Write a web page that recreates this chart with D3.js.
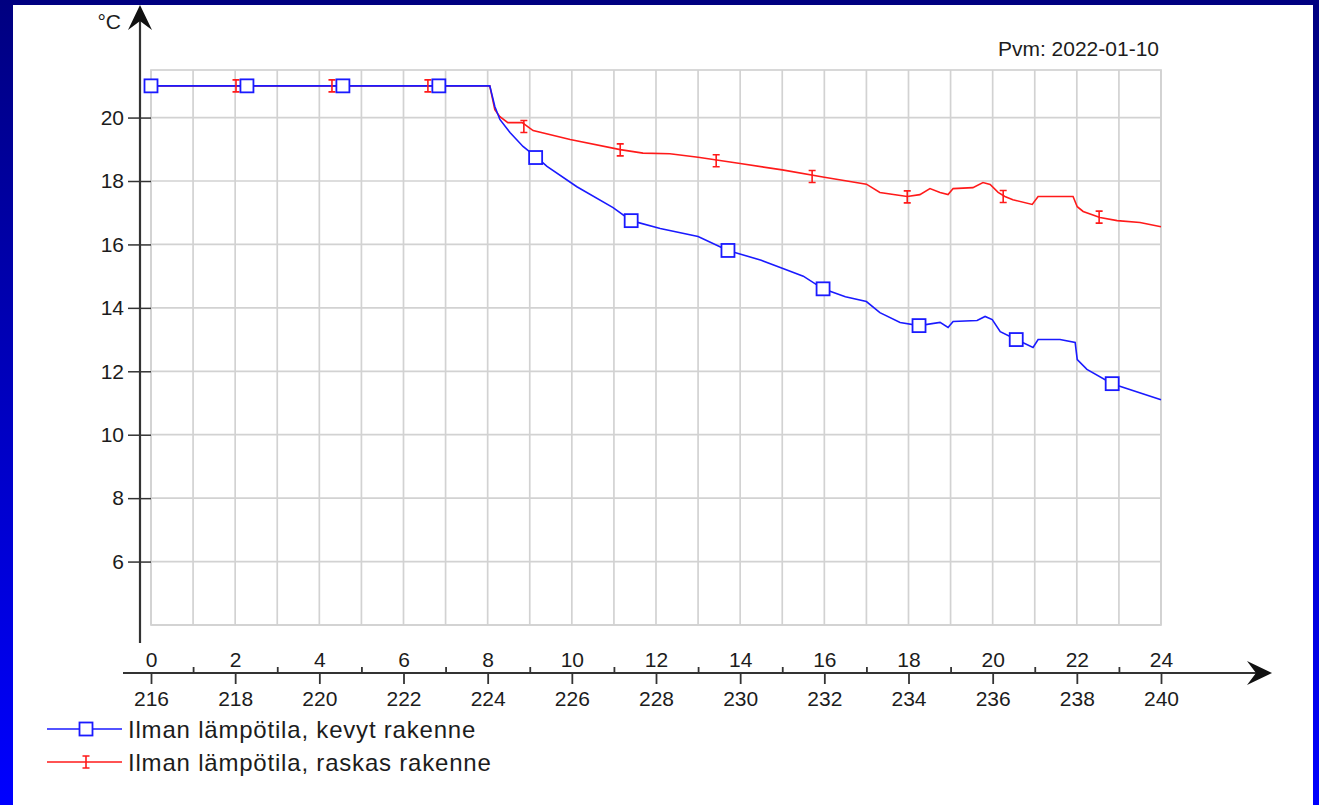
<!DOCTYPE html>
<html>
<head>
<meta charset="utf-8">
<script src="https://cdn.jsdelivr.net/npm/d3@7"></script>
<style>
  html, body { margin: 0; padding: 0; }
  body { width: 1319px; height: 805px; overflow: hidden; }
  svg text { font-family: "Liberation Sans", Arial, sans-serif; fill: #1c1c1c; }
</style>
</head>
<body>
<svg id="chart" width="1319" height="805"></svg>
<script>
// Simulation hours (0–24) and the matching hour-of-year labels (216–240)
const hourTicks = [0, 2, 4, 6, 8, 10, 12, 14, 16, 18, 20, 22, 24];
const hourOfYearTicks = [216, 218, 220, 222, 224, 226, 228, 230, 232, 234, 236, 238, 240];
const minorHourTicks = [1, 3, 5, 7, 9, 11, 13, 15, 17, 19, 21, 23];
const tempTicks = [6, 8, 10, 12, 14, 16, 18, 20];

// Light structure: air temperature [°C]
const lightHours = [0, 8.05, 8.17, 8.29, 8.53, 8.84, 9.17, 9.41, 10.12, 10.98, 11.41, 12.1, 13.0, 13.71,
  14.5, 15.0, 15.5, 15.97, 16.5, 17.0, 17.32, 17.8, 18.25, 18.75, 18.94, 19.06, 19.63, 19.82, 19.99,
  20.18, 20.56, 20.96, 21.08, 21.6, 21.96, 22.01, 22.24, 22.84, 24.0];
const lightTemp = [21.0, 21.0, 20.35, 19.94, 19.53, 19.09, 18.74, 18.46, 17.82, 17.16, 16.75, 16.5, 16.25, 15.81,
  15.5, 15.25, 15.0, 14.6, 14.35, 14.2, 13.85, 13.54, 13.44, 13.54, 13.38, 13.57, 13.6, 13.73, 13.63,
  13.25, 13.0, 12.75, 13.0, 13.0, 12.91, 12.37, 12.06, 11.61, 11.1];

// Heavy structure: air temperature [°C]
const heavyHours = [0, 8.05, 8.17, 8.29, 8.48, 8.82, 9.08, 9.96, 11.15, 11.69, 12.33, 13.0, 14.0, 15.0,
  16.0, 17.0, 17.32, 17.97, 18.27, 18.51, 18.75, 18.94, 19.06, 19.53, 19.77, 19.94, 20.13, 20.29,
  20.48, 20.94, 21.08, 21.91, 22.01, 22.15, 22.55, 22.96, 23.5, 24.0];
const heavyTemp = [21.0, 21.0, 20.25, 20.03, 19.84, 19.84, 19.59, 19.31, 18.99, 18.88, 18.86, 18.75, 18.55, 18.35,
  18.12, 17.9, 17.64, 17.51, 17.57, 17.76, 17.64, 17.57, 17.76, 17.79, 17.95, 17.89, 17.64, 17.51,
  17.41, 17.26, 17.51, 17.51, 17.19, 17.04, 16.85, 16.75, 16.69, 16.56];

// Marker positions along each series
const lightMarkHours = [0, 2.28, 4.56, 6.84, 9.14, 11.41, 13.71, 15.97, 18.25, 20.56, 22.84];
const lightMarkTemp = [21.0, 21.0, 21.0, 21.0, 18.74, 16.75, 15.81, 14.6, 13.44, 13.0, 11.61];
const heavyMarkHours = [0, 2.02, 4.30, 6.58, 8.86, 11.15, 13.43, 15.71, 17.97, 20.25, 22.53];
const heavyMarkTemp = [21.0, 21.0, 21.0, 21.0, 19.72, 18.98, 18.64, 18.14, 17.5, 17.51, 16.86];

const seriesNames = ["Ilman lämpötila, kevyt rakenne", "Ilman lämpötila, raskas rakenne"];
const unitLabel = "°C";
const dateLabel = "Pvm: 2022-01-10";

const svg = d3.select("#chart");

// Backdrop: navy-to-blue frame around a white sheet
const defs = svg.append("defs");
const grad = defs.append("linearGradient").attr("id", "frame").attr("x1", 0).attr("y1", 0).attr("x2", 0).attr("y2", 1);
grad.append("stop").attr("offset", "0%").attr("stop-color", "#000080");
grad.append("stop").attr("offset", "100%").attr("stop-color", "#0000ff");
svg.append("rect").attr("width", 1319).attr("height", 805).attr("fill", "url(#frame)");
svg.append("rect").attr("x", 13).attr("y", 5).attr("width", 1300).attr("height", 800).attr("fill", "#ffffff");

const plot = { left: 151, right: 1161, top: 70, bottom: 625 };
const x = d3.scaleLinear().domain([0, 24]).range([plot.left, plot.right]);
const y = d3.scaleLinear().domain([4, 21.5]).range([plot.bottom, plot.top]);

// Grid
const grid = svg.append("g").attr("stroke", "#d2d2d2").attr("stroke-width", 1.7).attr("fill", "none");
grid.selectAll("line.v").data(d3.range(0, 25)).join("line")
  .attr("x1", d => x(d)).attr("x2", d => x(d)).attr("y1", plot.top).attr("y2", plot.bottom);
grid.selectAll("line.h").data([4].concat(tempTicks)).join("line")
  .attr("x1", plot.left).attr("x2", plot.right).attr("y1", d => y(d)).attr("y2", d => y(d));
grid.append("rect").attr("x", plot.left).attr("y", plot.top)
  .attr("width", plot.right - plot.left).attr("height", plot.bottom - plot.top);

const axisColor = "#333333";
const fontSize = 21;

// Y axis
const yAxisX = 140;
const yAxis = svg.append("g").attr("transform", `translate(${plot.left},0)`)
  .call(d3.axisLeft(y).tickValues(tempTicks).tickSize(23).tickPadding(4).tickFormat(d3.format("d")));
yAxis.select(".domain").remove();
yAxis.selectAll(".tick line").attr("stroke", axisColor).attr("stroke-width", 1.5);
yAxis.selectAll(".tick text").attr("font-size", fontSize).style("font-family", "'Liberation Sans', Arial, sans-serif").attr("fill", "#1c1c1c");
svg.append("line").attr("x1", yAxisX).attr("x2", yAxisX).attr("y1", 20).attr("y2", 643)
  .attr("stroke", axisColor).attr("stroke-width", 2.2);
svg.append("path").attr("d", `M${yAxisX},5 L${yAxisX + 12},30 L${yAxisX},21 L${yAxisX - 12},30 Z`).attr("fill", "#111");

// X axis
const xAxisY = 673;
svg.append("line").attr("x1", 123).attr("x2", 1260).attr("y1", xAxisY).attr("y2", xAxisY)
  .attr("stroke", axisColor).attr("stroke-width", 2.2);
svg.append("path").attr("d", `M1272,${xAxisY} L1247,${xAxisY - 12} L1256,${xAxisY} L1247,${xAxisY + 12} Z`).attr("fill", "#111");

const xTop = svg.append("g").attr("transform", `translate(0,${xAxisY})`)
  .call(d3.axisTop(x).tickValues(hourTicks).tickSize(0).tickPadding(6).tickFormat(d3.format("d")));
const xMinor = svg.append("g").attr("transform", `translate(0,${xAxisY})`)
  .call(d3.axisTop(x).tickValues(minorHourTicks).tickSize(6).tickFormat(""));
const xBottom = svg.append("g").attr("transform", `translate(0,${xAxisY})`)
  .call(d3.axisBottom(x).tickValues(hourTicks).tickSize(11).tickPadding(7)
    .tickFormat((d, i) => hourOfYearTicks[i]));
[xTop, xMinor, xBottom].forEach(g => {
  g.select(".domain").remove();
  g.selectAll(".tick line").attr("stroke", axisColor).attr("stroke-width", 1.8);
  g.selectAll(".tick text").attr("font-size", fontSize).style("font-family", "'Liberation Sans', Arial, sans-serif").attr("fill", "#1c1c1c");
});

// Titles
svg.append("text").attr("x", 121).attr("y", 29).attr("text-anchor", "end").attr("font-size", fontSize).text(unitLabel);
svg.append("text").attr("x", 1159).attr("y", 56).attr("text-anchor", "end").attr("font-size", fontSize).text(dateLabel);

// Series
const line = d3.line().x(d => x(d[0])).y(d => y(d[1]));
const lightColor = "#1a1aff";
const heavyColor = "#ff1a1a";

svg.append("path").datum(d3.zip(heavyHours, heavyTemp)).attr("d", line)
  .attr("fill", "none").attr("stroke", heavyColor).attr("stroke-width", 1.6);
svg.append("path").datum(d3.zip(lightHours, lightTemp)).attr("d", line)
  .attr("fill", "none").attr("stroke", lightColor).attr("stroke-width", 1.6);

function barMarker(g, cx, cy, color) {
  g.append("path")
    .attr("d", `M${cx - 3.5},${cy - 6} H${cx + 3.5} M${cx},${cy - 6} V${cy + 6} M${cx - 3.5},${cy + 6} H${cx + 3.5}`)
    .attr("stroke", color).attr("stroke-width", 1.6).attr("fill", "none");
}
function squareMarker(g, cx, cy, color) {
  g.append("rect").attr("x", cx - 6.5).attr("y", cy - 6.5).attr("width", 13).attr("height", 13)
    .attr("fill", "#ffffff").attr("stroke", color).attr("stroke-width", 1.8);
}

const marks = svg.append("g");
d3.zip(heavyMarkHours, heavyMarkTemp).forEach(([h, t]) => barMarker(marks, x(h), y(t), heavyColor));
d3.zip(lightMarkHours, lightMarkTemp).forEach(([h, t]) => squareMarker(marks, x(h), y(t), lightColor));

// Legend
const legend = svg.append("g");
[[seriesNames[0], lightColor, squareMarker, 729], [seriesNames[1], heavyColor, barMarker, 762]].forEach(([name, color, mk, ly]) => {
  legend.append("line").attr("x1", 47).attr("x2", 122).attr("y1", ly).attr("y2", ly)
    .attr("stroke", color).attr("stroke-width", 1.6);
  mk(legend, 86, ly, color);
  legend.append("text").attr("x", 128).attr("y", ly + 9).attr("font-size", 24)
    .attr("letter-spacing", "0.8px").text(name);
});
</script>
</body>
</html>
